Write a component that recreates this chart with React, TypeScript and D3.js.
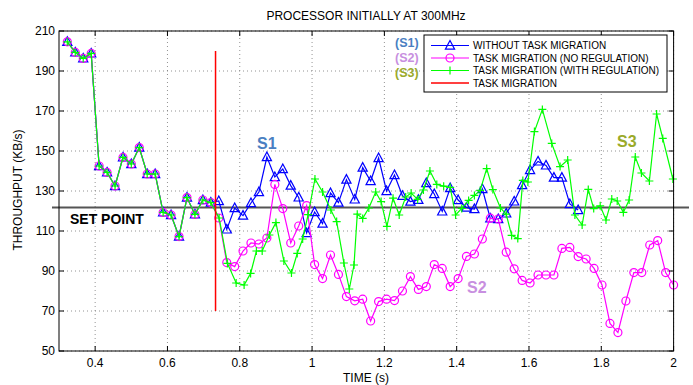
import React from 'react';
import * as d3 from 'd3';

// Sample times (s) shared by S1 / S2 and by the common start of S3
const T = [0.323,0.345,0.367,0.389,0.411,0.433,0.455,0.477,0.5,0.522,0.544,0.566,0.588,0.61,0.632,0.654,0.676,0.698,0.72,
  0.742,0.764,0.786,0.809,0.831,0.853,0.875,0.897,0.919,0.941,0.963,0.985,1.007,1.029,1.051,1.073,1.095,1.118,1.14,1.162,
  1.184,1.206,1.228,1.25,1.272,1.294,1.316,1.338,1.36,1.382,1.404,1.427,1.449,1.471,1.493,1.515,1.537,1.559,1.581,1.603,
  1.625,1.647,1.669,1.691,1.713,1.736,1.758,1.78,1.802,1.824,1.846,1.868,1.89,1.912,1.934,1.956,1.978,2.0];

// Common part before migration (first 19 samples)
const commonV = [204.6,199.3,196.3,198.8,142.5,139.3,132.5,146.8,143.5,151.7,138.5,138.5,119.3,118,107.2,126.7,118.3,125.5,124.2];

// S1: without task migration
const s1Tail = [125,110.8,121.5,117.7,124,129.5,147,137,141,132.7,126.8,109,119.5,113.7,129,124.2,135.7,125.8,141.7,135,
  146.5,130,138,127.6,124.7,125.6,134,128.5,119.8,131.5,125.5,121.7,121,131,116.3,116,118.8,124.8,133,140.5,144.8,142.8,
  136.7,136.7,123.5,120.5];

// S2: task migration (no regulation)
const s2Tail = [116.5,94.2,92.2,100,104,103.5,106.5,133.3,121.2,104,112.5,122.7,93.2,86.2,98,88.3,77.2,75.1,75.9,65,74.7,
  75.9,75.2,80,87.2,80.8,82.2,93.2,91.3,82.2,86.2,97.3,98.5,106,116.4,116,99.4,91.1,85.3,84,88,88,88,101.3,101.8,97.2,96,
  91.3,83,63.8,59.2,75,89.2,89.2,103,105.2,89.2,83];

// S3: task migration (with regulation) — own sample times after migration
const s3TailT = [0.743,0.766,0.79,0.812,0.83,0.846,0.862,0.882,0.9,0.922,0.943,0.959,0.974,0.989,1.008,1.029,1.052,1.068,
  1.088,1.103,1.116,1.125,1.14,1.157,1.176,1.191,1.207,1.224,1.241,1.259,1.274,1.292,1.308,1.326,1.345,1.364,1.382,1.397,
  1.414,1.433,1.449,1.465,1.483,1.5,1.521,1.537,1.552,1.569,1.583,1.597,1.615,1.637,1.663,1.686,1.707,1.727,1.747,1.764,
  1.779,1.797,1.813,1.829,1.844,1.861,1.877,1.894,1.911,1.933,1.953,1.97,1.998];
const s3TailV = [116.5,93.8,84,83,88.8,100,100,108,114.2,95,89,98.8,106,118.2,136,129.5,120.5,114.7,94,81,93,118.4,116.3,
  121.5,129.5,124.7,112.3,126.4,118,127,129,125.8,130.5,140,133.3,132.4,131.8,118,121.3,125.3,127.8,130.3,141.2,130.7,
  121.5,118.4,107.8,106.2,135.3,134.5,159.7,170.8,153.8,142.2,145.5,118,113,130.8,121.2,122.6,115.5,126,125,119.3,125.5,
  147,139,135,168.5,156.3,136];

const setPoint = 121.7;
const migrationT = 0.733;
const migrationRange = [70, 200];

const xTicks = [0.4, 0.6, 0.8, 1, 1.2, 1.4, 1.6, 1.8, 2];
const yTicks = [50, 70, 90, 110, 130, 150, 170, 190, 210];

const legendLabels = ['WITHOUT TASK MIGRATION', 'TASK MIGRATION (NO REGULATION)', 'TASK MIGRATION (WITH REGULATION)', 'TASK MIGRATION'];
const legendTags = ['(S1)', '(S2)', '(S3)'];

const FONT = '"Liberation Sans", Arial, Helvetica, sans-serif';

export default function App() {
  const W = 693, H = 385;
  const x0 = 59, x1 = 673.6, y0 = 351, y1 = 31;
  const x = d3.scaleLinear().domain([0.3, 2.0]).range([x0, x1]);
  const y = d3.scaleLinear().domain([50, 210]).range([y0, y1]);

  const s1 = T.slice(0, 19 + s1Tail.length).map((t, i) => [t, i < 19 ? commonV[i] : s1Tail[i - 19]]);
  const s2 = T.map((t, i) => [t, i < 19 ? commonV[i] : s2Tail[i - 19]]);
  const s3 = T.slice(0, 19).map((t, i) => [t, commonV[i]]).concat(s3TailT.map((t, i) => [t, s3TailV[i]]));

  const line = d3.line<number[]>().x(d => x(d[0])).y(d => y(d[1]));

  const blue = '#0000ff', magenta = '#ff00ff', green = '#00ff00', red = '#ff0000';
  const tri = (cx: number, cy: number) => `M${cx},${cy - 5}L${cx + 4.6},${cy + 3.6}L${cx - 4.6},${cy + 3.6}Z`;
  const plus = (cx: number, cy: number) => `M${cx - 4},${cy}H${cx + 4}M${cx},${cy - 4}V${cy + 4}`;

  const legX = 424, legY = 35, legW = 243, legH = 57;
  const rowY = [45.5, 58, 70.5, 83];
  const tagY = [47, 62, 76.5];
  const tagColors = ['#4a7fc2', '#c88fe0', '#9aaa2a'];

  return (
    <svg width={W} height={H} style={{ position: 'absolute', left: 0, top: 0, background: '#fff' }} fontFamily={FONT}>
      <rect x={0} y={0} width={W} height={H} fill="#fff" />
      {/* grid */}
      {xTicks.map(t => (
        <line key={'gx' + t} x1={x(t)} x2={x(t)} y1={y0} y2={y1} stroke="#777" strokeWidth={0.8} strokeDasharray="1,3" />
      ))}
      {yTicks.map(v => (
        <line key={'gy' + v} x1={x0} x2={x1} y1={y(v)} y2={y(v)} stroke="#777" strokeWidth={0.8} strokeDasharray="1,3" />
      ))}
      {/* set point */}
      <line x1={52} x2={689} y1={y(setPoint)} y2={y(setPoint)} stroke="#555" strokeWidth={2} />

      {/* S1 */}
      <path d={line(s1) || ''} fill="none" stroke={blue} strokeWidth={1.2} />
      {s1.map((d, i) => <path key={'b' + i} d={tri(x(d[0]), y(d[1]))} fill="none" stroke={blue} strokeWidth={1.2} />)}
      {/* S2 */}
      <path d={line(s2) || ''} fill="none" stroke={magenta} strokeWidth={1.2} />
      {s2.map((d, i) => <circle key={'m' + i} cx={x(d[0])} cy={y(d[1])} r={4} fill="none" stroke={magenta} strokeWidth={1.2} />)}
      {/* S3 */}
      <path d={line(s3) || ''} fill="none" stroke={green} strokeWidth={1.2} />
      {s3.map((d, i) => <path key={'g' + i} d={plus(x(d[0]), y(d[1]))} fill="none" stroke={green} strokeWidth={1.2} />)}
      {/* migration */}
      <line x1={x(migrationT)} x2={x(migrationT)} y1={y(migrationRange[0])} y2={y(migrationRange[1])} stroke={red} strokeWidth={1.5} />

      {/* frame + ticks */}
      <rect x={x0} y={y1} width={x1 - x0} height={y0 - y1} fill="none" stroke="#000" strokeWidth={1} />
      {xTicks.map(t => (
        <g key={'tx' + t}>
          <line x1={x(t)} x2={x(t)} y1={y0} y2={y0 - 5} stroke="#000" />
          <line x1={x(t)} x2={x(t)} y1={y1} y2={y1 + 5} stroke="#000" />
          <text x={x(t)} y={367} textAnchor="middle" fontSize={12}>{String(t)}</text>
        </g>
      ))}
      {yTicks.map(v => (
        <g key={'ty' + v}>
          <line x1={x0} x2={x0 + 5} y1={y(v)} y2={y(v)} stroke="#000" />
          <line x1={x1} x2={x1 - 5} y1={y(v)} y2={y(v)} stroke="#000" />
          <text x={55} y={y(v) + 4} textAnchor="end" fontSize={12}>{String(v)}</text>
        </g>
      ))}

      {/* titles */}
      <text x={366} y={20} textAnchor="middle" fontSize={12}>PROCESSOR INITIALLY AT 300MHz</text>
      <text x={366} y={382} textAnchor="middle" fontSize={12}>TIME (s)</text>
      <text transform="translate(22,190) rotate(-90)" textAnchor="middle" fontSize={12}>THROUGHPUT (KB/s)</text>

      {/* annotations */}
      <text x={70} y={224} fontSize={14} fontWeight="bold">SET POINT</text>
      <text x={257} y={149} fontSize={16} fontWeight="bold" fill={tagColors[0]}>S1</text>
      <text x={467} y={293} fontSize={16} fontWeight="bold" fill={tagColors[1]}>S2</text>
      <text x={617} y={147} fontSize={16} fontWeight="bold" fill={tagColors[2]}>S3</text>

      {/* legend */}
      <rect x={legX} y={legY} width={legW} height={legH} fill="#fff" stroke="#000" strokeWidth={1} />
      {legendLabels.map((lab, i) => {
        const cy = rowY[i];
        const col = [blue, magenta, green, red][i];
        return (
          <g key={'lg' + i}>
            <line x1={431} x2={469} y1={cy} y2={cy} stroke={col} strokeWidth={i === 3 ? 1.5 : 1.2} />
            {i === 0 && <path d={tri(450, cy)} fill="none" stroke={blue} strokeWidth={1.2} />}
            {i === 1 && <circle cx={450} cy={cy} r={4} fill="none" stroke={magenta} strokeWidth={1.2} />}
            {i === 2 && <path d={plus(450, cy)} fill="none" stroke={green} strokeWidth={1.2} />}
            <text x={473} y={cy + 3.6} fontSize={10}>{lab}</text>
          </g>
        );
      })}
      {legendTags.map((tag, i) => (
        <text key={'tag' + i} x={395} y={tagY[i]} fontSize={12.5} fontWeight="bold" fill={tagColors[i]}>{tag}</text>
      ))}
    </svg>
  );
}
